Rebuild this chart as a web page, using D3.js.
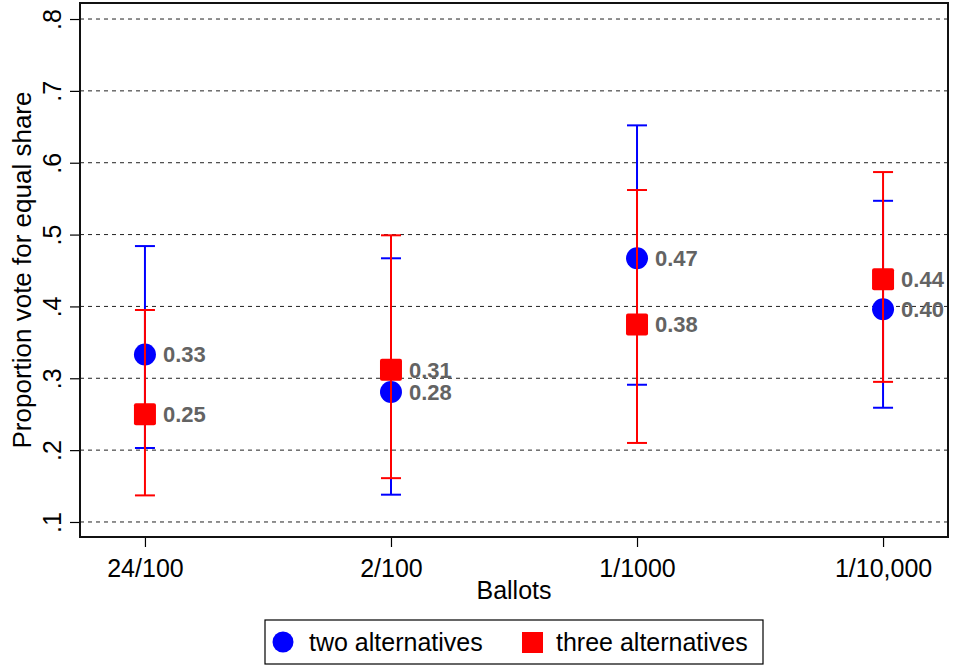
<!DOCTYPE html>
<html lang="en">
<head>
  <meta charset="UTF-8">
  <title>Proportion vote for equal share by ballots</title>
  <script src="https://d3js.org/d3.v7.min.js"></script>
  <style>
    body { margin:0; background:#fff; }
    svg { display:block; font-family: "Liberation Sans", Arial, Helvetica, sans-serif; }
  </style>
</head>
<body>
  <svg width="953" height="667"></svg>
  <script>
    // data
    const ballots = ['24/100', '2/100', '1/1000', '1/10,000']
    const twoMean = [0.333, 0.281, 0.467, 0.396]
    const twoLow = [0.203, 0.138, 0.291, 0.259]
    const twoHigh = [0.484, 0.467, 0.652, 0.547]
    const threeMean = [0.250, 0.312, 0.375, 0.438]
    const threeLow = [0.137, 0.161, 0.210, 0.295]
    const threeHigh = [0.395, 0.499, 0.562, 0.587]
    const twoLabels = ['0.33', '0.28', '0.47', '0.40']
    const threeLabels = ['0.25', '0.31', '0.38', '0.44']
    const yTicks = [0.1, 0.2, 0.3, 0.4, 0.5, 0.6, 0.7, 0.8]

    const svg = d3.select('svg')
    const plot = {left: 80, right: 948, top: 3, bottom: 537}

    const x = d3.scaleLinear()
      .domain([-0.264, ballots.length - 1 + 0.264])
      .range([plot.left, plot.right])
    const y = d3.scaleLinear()
      .domain([0.0791, 0.8223])
      .range([plot.bottom, plot.top])

    // gridlines
    svg.append('g').selectAll('line')
      .data(yTicks)
      .enter().append('line')
      .attr('x1', plot.left).attr('x2', plot.right)
      .attr('y1', d => y(d)).attr('y2', d => y(d))
      .attr('stroke', '#222').attr('stroke-width', 1)
      .attr('stroke-dasharray', '4,4')

    // y axis
    const yAxis = d3.axisLeft(y)
      .tickValues(yTicks)
      .tickSize(10)
      .tickFormat(d => d3.format('.1f')(d).replace(/^0/, ''))
    const gy = svg.append('g')
      .attr('transform', 'translate(' + [plot.left, 0] + ')')
      .call(yAxis)
    gy.select('.domain').remove()
    gy.selectAll('.tick line').attr('stroke', '#000').attr('stroke-width', 1.2)
    gy.selectAll('.tick text')
      .attr('x', 0).attr('y', 0).attr('dy', 0)
      .attr('transform', 'translate(-19,0) rotate(-90)')
      .attr('text-anchor', 'middle')
      .attr('font-size', 25).attr('font-family', null)
      .attr('fill', '#000')

    // x axis
    const xAxis = d3.axisBottom(x)
      .tickValues(d3.range(ballots.length))
      .tickSize(10)
      .tickFormat(i => ballots[i])
    const gx = svg.append('g')
      .attr('transform', 'translate(' + [0, plot.bottom] + ')')
      .call(xAxis)
    gx.select('.domain').remove()
    gx.selectAll('.tick line').attr('stroke', '#000').attr('stroke-width', 1.2)
    gx.selectAll('.tick text')
      .attr('y', 40).attr('dy', 0)
      .attr('font-size', 25).attr('font-family', null)
      .attr('fill', '#000')

    // plot frame
    svg.append('rect')
      .attr('x', plot.left).attr('y', plot.top)
      .attr('width', plot.right - plot.left)
      .attr('height', plot.bottom - plot.top)
      .attr('fill', 'none').attr('stroke', '#111').attr('stroke-width', 2)

    // axis titles
    svg.append('text')
      .attr('transform', 'translate(31,' + (plot.top + plot.bottom) / 2 + ') rotate(-90)')
      .attr('text-anchor', 'middle')
      .attr('font-size', 26)
      .text('Proportion vote for equal share')
    svg.append('text')
      .attr('x', (plot.left + plot.right) / 2).attr('y', 599)
      .attr('text-anchor', 'middle')
      .attr('font-size', 25)
      .text('Ballots')

    const capHalf = 10
    function errorBars (low, high, color) {
      const g = svg.append('g').attr('stroke', color).attr('stroke-width', 2)
      ballots.forEach((b, i) => {
        g.append('line')
          .attr('x1', x(i)).attr('x2', x(i))
          .attr('y1', y(low[i])).attr('y2', y(high[i]))
        ;[low[i], high[i]].forEach(v => {
          g.append('line')
            .attr('x1', x(i) - capHalf).attr('x2', x(i) + capHalf)
            .attr('y1', y(v)).attr('y2', y(v))
        })
      })
    }

    // two alternatives
    errorBars(twoLow, twoHigh, '#0000ff')
    svg.append('g').selectAll('circle')
      .data(twoMean)
      .enter().append('circle')
      .attr('cx', (d, i) => x(i)).attr('cy', d => y(d))
      .attr('r', 11)
      .attr('fill', '#0000ff')

    // three alternatives
    errorBars(threeLow, threeHigh, '#ff0000')
    svg.append('g').selectAll('rect')
      .data(threeMean)
      .enter().append('rect')
      .attr('x', (d, i) => x(i) - 11).attr('y', d => y(d) - 11)
      .attr('width', 22).attr('height', 22)
      .attr('rx', 2)
      .attr('fill', '#ff0000')

    // value labels
    const labelData = twoMean.map((v, i) => ({i, v, t: twoLabels[i]}))
      .concat(threeMean.map((v, i) => ({i, v, t: threeLabels[i]})))
    svg.append('g').selectAll('text')
      .data(labelData)
      .enter().append('text')
      .attr('x', d => x(d.i) + 18).attr('y', d => y(d.v))
      .attr('dy', '0.36em')
      .attr('font-size', 22).attr('font-weight', 'bold')
      .attr('fill', '#636363')
      .text(d => d.t)

    // legend
    const legend = svg.append('g')
    legend.append('rect')
      .attr('x', 265).attr('y', 620)
      .attr('width', 498).attr('height', 44)
      .attr('fill', '#fff').attr('stroke', '#000').attr('stroke-width', 1.2)
    legend.append('circle')
      .attr('cx', 283).attr('cy', 642).attr('r', 10.5)
      .attr('fill', '#0000ff')
    legend.append('text')
      .attr('x', 309).attr('y', 651)
      .attr('font-size', 25)
      .text('two alternatives')
    legend.append('rect')
      .attr('x', 522).attr('y', 632)
      .attr('width', 21).attr('height', 21)
      .attr('fill', '#ff0000')
    legend.append('text')
      .attr('x', 556).attr('y', 651)
      .attr('font-size', 25)
      .text('three alternatives')
  </script>
</body>
</html>
